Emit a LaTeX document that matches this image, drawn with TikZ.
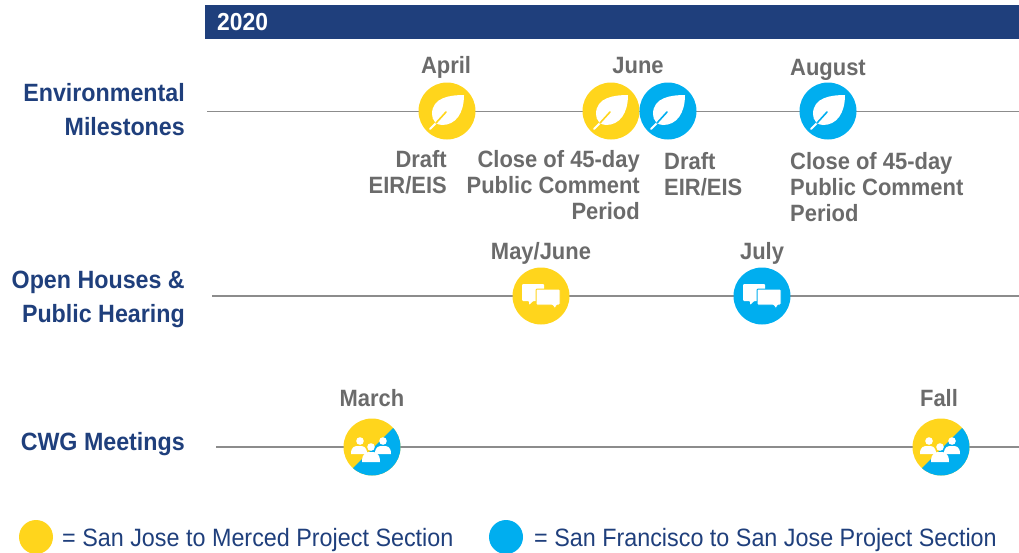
\documentclass[tikz,border=0pt]{standalone}
\usepackage{fontspec}
\setmainfont[FakeStretch=0.93]{Liberation Sans}
\definecolor{ylw}{HTML}{FFD51C}
\definecolor{blu}{HTML}{00AEEF}
\definecolor{navy}{HTML}{1F3F7C}
\definecolor{gry}{HTML}{6B6B6B}
\definecolor{rule}{HTML}{8C8C8C}
\tikzset{
  disc/.style={circle,inner sep=0pt,minimum size=57pt},
  legenddisc/.style={circle,inner sep=0pt,minimum size=34pt},
  rowline/.style={draw=rule,line width=1.5pt},
  rowtitle/.style={anchor=east,align=right,text=navy,font=\fontsize{25}{34}\selectfont\bfseries,inner sep=0pt},
  when/.style={text=gry,font=\fontsize{23.6}{26}\selectfont\bfseries,inner sep=0pt},
  note/.style={text=gry,font=\fontsize{23.6}{26}\selectfont\bfseries,inner sep=0pt},
  legendtext/.style={anchor=west,text=navy,font=\fontsize{25.1}{26}\selectfont,inner sep=0pt},
  pics/leaf/.style={code={
    \fill[white] (17,-16) .. controls (4,-16) and (-15,-14) .. (-15,3)
      .. controls (-15,6) and (-14,9) .. (-12,11)
      .. controls (-10,13) and (-8,14) .. (-5,14)
      .. controls (9,14) and (17,2) .. (17,-16) -- cycle;
    \draw[white,line width=2pt,line cap=round] (-17,18) -- (-9,10);
    \draw[#1,line width=1.6pt,line cap=round] (-11,12) -- (-1,1);
  }},
  pics/chat/.style={code={
    \fill[white,rounded corners=1pt] (-19,-12) -- (3,-12) -- (3,5) -- (-8,5) -- (-12,9) -- (-12,5) -- (-19,5) -- cycle;
    \fill[white,draw=#1,line width=1pt,rounded corners=1pt] (-5,-7) -- (19,-7) -- (19,9) -- (16,9) -- (14,13) -- (11,9) -- (-5,9) -- cycle;
  }},
  pics/crowd/.style={code={
    \fill[white] (-12,-6) circle (3.8);
    \fill[white] (11,-6) circle (3.8);
    \fill[white] (-21,7) .. controls (-21,-1) and (-17,-1) .. (-13,-1) .. controls (-9,-1) and (-5,-1) .. (-5,7) -- cycle;
    \fill[white] (3,7) .. controls (3,-1) and (7,-1) .. (11,-1) .. controls (15,-1) and (19,-1) .. (19,7) -- cycle;
    \fill[white] (-1,0) circle (3.8);
    \fill[white] (-10,15) .. controls (-10,5) and (-5,5) .. (-1,5) .. controls (3,5) and (8,5) .. (8,15) -- cycle;
  }},
}
\begin{document}
\begin{tikzpicture}[x=1pt,y=-1pt]
\useasboundingbox (0,0) rectangle (1019,552);
% header
\node[fill=navy,minimum width=814pt,minimum height=34pt,inner sep=0pt,anchor=north west] (bar) at (205,5) {};
\node[anchor=west,text=white,font=\fontsize{24.6}{26}\selectfont\bfseries,inner sep=0pt] (year) at (217,22) {2020};
% row titles
\node[rowtitle] (env) at (185,109.5) {Environmental\\Milestones};
\node[rowtitle] (open) at (185,299) {Open Houses \&\\Public Hearing};
\node[rowtitle] (cwg) at (185,444) {CWG Meetings};
% row lines
\coordinate (envL) at (207,111.5); \coordinate (envR) at (1019,111.5);
\coordinate (openL) at (212,296); \coordinate (openR) at (1019,296);
\coordinate (cwgL) at (216,447); \coordinate (cwgR) at (1019,447);
\draw[rowline] (envL) -- (envR);
\draw[rowline] (openL) -- (openR);
\draw[rowline] (cwgL) -- (cwgR);
% environmental milestones
\node[disc,fill=ylw] (e1) at (447,111) {};
\pic at (e1.center) {leaf=ylw};
\node[disc,fill=ylw] (e2) at (611,111) {};
\pic at (e2.center) {leaf=ylw};
\node[disc,fill=blu] (e3) at (668,111) {};
\pic at (e3.center) {leaf=blu};
\node[disc,fill=blu] (e4) at (828,111) {};
\pic at (e4.center) {leaf=blu};
\node[when] (e1m) at (446,67) {April};
\node[when] (e2m) at (638,65) {June};
\node[when] (e4m) at (828,70) {August};
\node[note,align=right,anchor=north east] (n1) at (447,150) {Draft\\EIR/EIS};
\node[note,align=right,anchor=north east] (n2) at (640,150.5) {Close of 45-day\\Public Comment\\Period};
\node[note,align=left,anchor=north west] (n3) at (664,152) {Draft\\EIR/EIS};
\node[note,align=left,anchor=north west] (n4) at (790,152) {Close of 45-day\\Public Comment\\Period};
% open houses
\node[disc,fill=ylw] (o1) at (541,296) {};
\pic at (o1.center) {chat=ylw};
\node[disc,fill=blu] (o2) at (762,296) {};
\pic at (o2.center) {chat=blu};
\node[when] (o1m) at (541,253.5) {May/June};
\node[when] (o2m) at (762,253.5) {July};
% CWG
\node[disc,fill=ylw,path picture={\fill[blu,shift={(path picture bounding box.center)}] (-30,32) -- (32,-30) -- (40,40) -- cycle;}] (c1) at (372,447) {};
\pic at (c1.center) {crowd};
\node[disc,fill=ylw,path picture={\fill[blu,shift={(path picture bounding box.center)}] (-30,32) -- (32,-30) -- (40,40) -- cycle;}] (c2) at (941,447) {};
\pic at (c2.center) {crowd};
\node[when] (c1m) at (372,398) {March};
\node[when] (c2m) at (939,398) {Fall};
% legend
\node[legenddisc,fill=ylw] (ly) at (36,537) {};
\node[legendtext] (lyt) at (62,540) {= San Jose to Merced Project Section};
\node[legenddisc,fill=blu] (lb) at (506,537) {};
\node[legendtext] (lbt) at (534,540) {= San Francisco to San Jose Project Section};
\end{tikzpicture}
\end{document}
